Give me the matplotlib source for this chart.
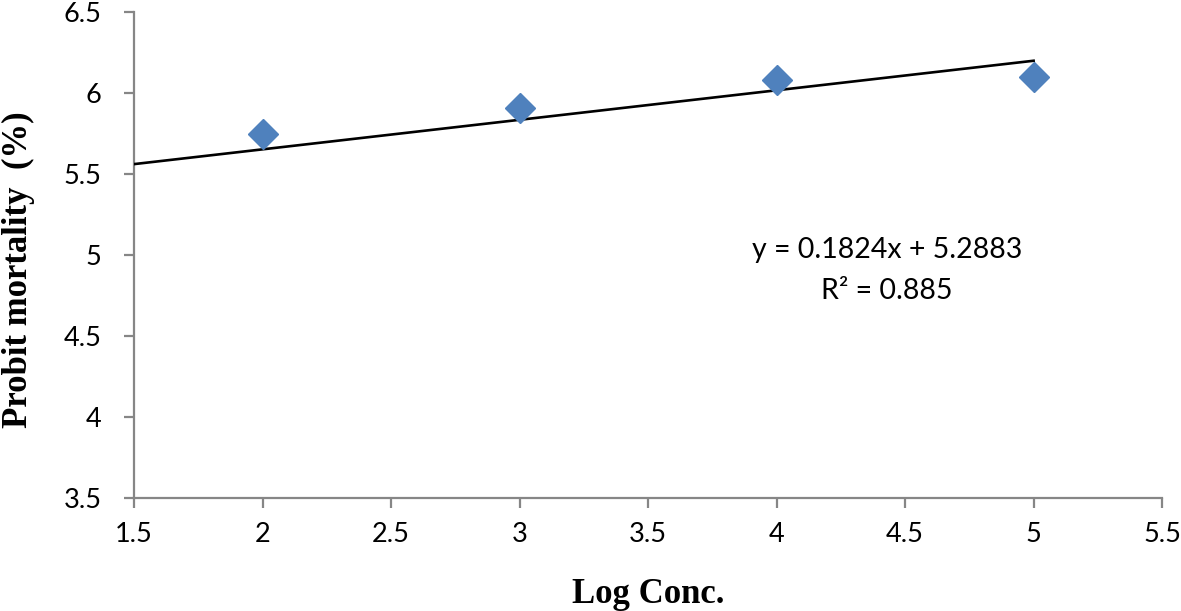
import matplotlib
matplotlib.use('Agg')

import numpy as np
import matplotlib.pyplot as plt

# data
log_conc = [2, 3, 4, 5]
probit = [5.75, 5.91, 6.08, 6.10]

# trendline as printed on the chart
slope = 0.1824
intercept = 5.2883
r_squared = 0.885
trend_x = [1.5, 5]

x_ticks = [1.5, 2, 2.5, 3, 3.5, 4, 4.5, 5, 5.5]
y_ticks = [3.5, 4, 4.5, 5, 5.5, 6, 6.5]

tick_font = 'Lato'
label_font = 'Liberation Serif'
axis_grey = '#868686'


def main():
    fig = plt.figure(figsize=(11.81, 6.11), dpi=100)
    ax = fig.add_axes([0.1135, 0.185, 0.8705, 0.795])

    # linear trendline
    tx = np.array(trend_x)
    ax.plot(tx, slope * tx + intercept, color='black', lw=1.9, zorder=2)

    # points
    ax.plot(log_conc, probit, linestyle='none', marker='D', markersize=15,
            color='#4F81BD', markeredgecolor='#4F81BD', zorder=3)

    ax.set_xlim(x_ticks[0], x_ticks[-1])
    ax.set_ylim(y_ticks[0], y_ticks[-1])
    ax.set_xticks(x_ticks)
    ax.set_yticks(y_ticks)
    ax.set_xticklabels([f'{v:g}' for v in x_ticks])
    ax.set_yticklabels([f'{v:g}' for v in y_ticks])

    for side in ['top', 'right']:
        ax.spines[side].set_visible(False)
    for side in ['left', 'bottom']:
        ax.spines[side].set_color(axis_grey)
        ax.spines[side].set_linewidth(1.6)
        ax.spines[side].set_zorder(1)

    ax.tick_params(axis='both', direction='out', length=7.5, width=1.6,
                   color=axis_grey, labelsize=19.5)
    ax.tick_params(axis='y', pad=16)
    ax.tick_params(axis='x', pad=10)
    for lbl in ax.get_xticklabels() + ax.get_yticklabels():
        lbl.set_fontfamily(tick_font)

    ax.set_xlabel('Log Conc.', fontfamily=label_font, fontweight='bold',
                  fontsize=25, labelpad=22)
    ax.set_ylabel('Probit mortality  (%)', fontfamily=label_font,
                  fontweight='bold', fontsize=25)
    ax.yaxis.set_label_coords(-0.096, 0.47)

    ax.text(4.43, 5.03, f'y = {slope}x + {intercept}', fontfamily=tick_font,
            fontsize=20.5, ha='center', va='center')
    ax.text(4.43, 4.78, f'R² = {r_squared}', fontfamily=tick_font,
            fontsize=20.5, ha='center', va='center')

    fig.savefig('out.png', dpi=100)


if __name__ == "__main__":
    main()
